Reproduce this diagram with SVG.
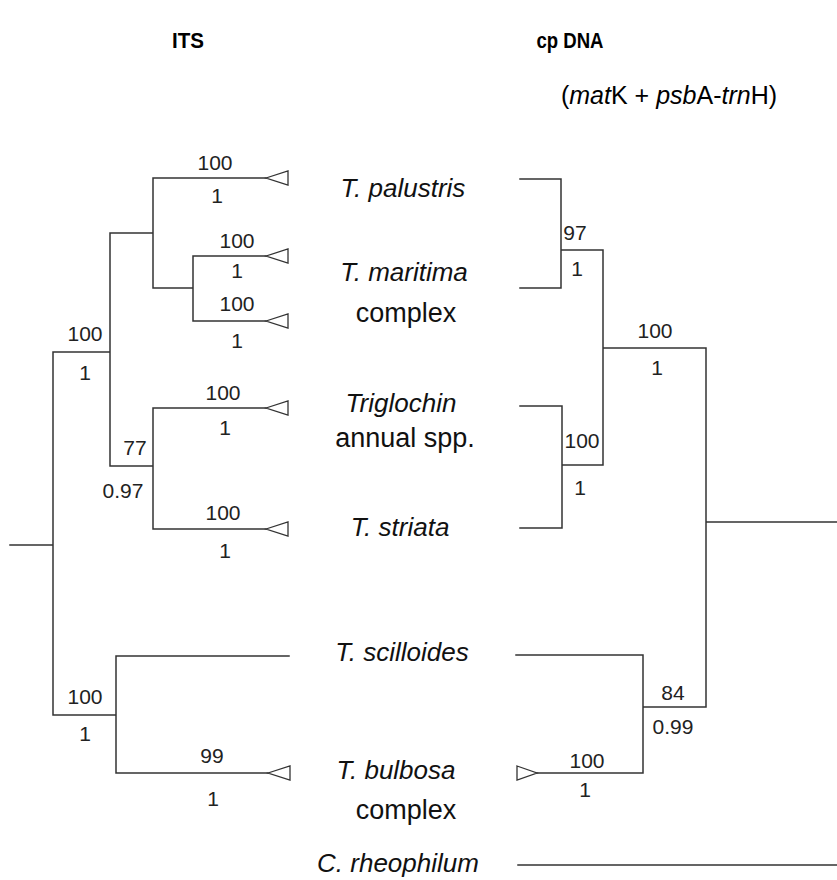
<svg xmlns="http://www.w3.org/2000/svg" xmlns:xlink="http://www.w3.org/1999/xlink" width="837" height="880" viewBox="0 0 837 880">
<style>
.br{stroke:#333;stroke-width:1.5;fill:none;stroke-linecap:square}
.tri{stroke:#333;stroke-width:1.3;fill:#fff}
.sup{font-family:"Liberation Sans",Arial,sans-serif;font-size:21px;fill:#222;text-anchor:middle}
.tax{font-family:"Liberation Sans",Arial,sans-serif;font-size:27px;fill:#111;text-anchor:middle}
.it{font-style:italic;font-size:26px}
.ttl{font-family:"Liberation Sans",Arial,sans-serif;font-size:22px;font-weight:bold;fill:#000;text-anchor:middle}
.sub{font-family:"Liberation Sans",Arial,sans-serif;font-size:25px;fill:#000;text-anchor:middle}
</style>
<defs>
<path id="triL" d="M0,0 L22,-7 L22,7 Z"/>
<path id="triR" d="M0,-7 L20,0 L0,7 Z"/>
</defs>
<rect width="837" height="880" fill="#fff"/>

<g id="titles">
<text class="ttl" x="188" y="48" textLength="32" lengthAdjust="spacingAndGlyphs">ITS</text>
<text class="ttl" x="570" y="48" textLength="67" lengthAdjust="spacingAndGlyphs">cp DNA</text>
<text class="sub" x="669" y="104">(<tspan font-style="italic">mat</tspan>K + <tspan font-style="italic">psb</tspan>A-<tspan font-style="italic">trn</tspan>H)</text>
</g>

<g id="connectors">
<!-- ITS tree -->
<path class="br" d="M10,545 H53 M53,352 V715 M53,352 H110 M110,233 V466 M110,233 H153 M153,178 V288 M153,178 H266 M153,288 H193 M193,256 V321 M193,256 H266 M193,321 H266 M110,466 H153 M153,408 V529 M153,408 H266 M153,529 H266 M53,715 H116 M116,656 V773 M116,656 H289 M116,773 H268"/>
<use xlink:href="#triL" class="tri" x="266" y="178"/>
<use xlink:href="#triL" class="tri" x="266" y="256"/>
<use xlink:href="#triL" class="tri" x="266" y="321"/>
<use xlink:href="#triL" class="tri" x="266" y="408"/>
<use xlink:href="#triL" class="tri" x="266" y="529"/>
<use xlink:href="#triL" class="tri" x="268" y="773"/>
<!-- cp DNA tree -->
<path class="br" d="M520,179 H561 V288 H520 M561,250 H603 M520,406 H562 V528 H520 M562,465 H603 M603,250 V465 M603,348 H706 V707 M706,522 H837 M643,707 H706 M516,655 H643 V773 H537 M518,865 H837"/>
<use xlink:href="#triR" class="tri" x="517" y="773"/>
</g>

<g id="support">
<text class="sup" x="215" y="170">100</text><text class="sup" x="217" y="203">1</text>
<text class="sup" x="237" y="248">100</text><text class="sup" x="237" y="278">1</text>
<text class="sup" x="237" y="311">100</text><text class="sup" x="237" y="348">1</text>
<text class="sup" x="85" y="341">100</text><text class="sup" x="85" y="380">1</text>
<text class="sup" x="223" y="400">100</text><text class="sup" x="225" y="435">1</text>
<text class="sup" x="135" y="455">77</text><text class="sup" x="123" y="498">0.97</text>
<text class="sup" x="223" y="520">100</text><text class="sup" x="225" y="558">1</text>
<text class="sup" x="85" y="704">100</text><text class="sup" x="85" y="741">1</text>
<text class="sup" x="212" y="763">99</text><text class="sup" x="213" y="806">1</text>
<text class="sup" x="575" y="240">97</text><text class="sup" x="577" y="276">1</text>
<text class="sup" x="582" y="448">100</text><text class="sup" x="580" y="495">1</text>
<text class="sup" x="655" y="338">100</text><text class="sup" x="657" y="375">1</text>
<text class="sup" x="673" y="700">84</text><text class="sup" x="673" y="734">0.99</text>
<text class="sup" x="587" y="768">100</text><text class="sup" x="585" y="797">1</text>
</g>

<g id="t-palustris"><text class="tax it" x="403" y="197">T. palustris</text></g>
<g id="t-maritima"><text class="tax it" x="404" y="281">T. maritima</text><text class="tax" x="406" y="322">complex</text></g>
<g id="triglochin-annual"><text class="tax it" x="401" y="412">Triglochin</text><text class="tax" x="405" y="447">annual spp.</text></g>
<g id="t-striata"><text class="tax it" x="400" y="536">T. striata</text></g>
<g id="t-scilloides"><text class="tax it" x="402" y="661">T. scilloides</text></g>
<g id="t-bulbosa"><text class="tax it" x="396" y="779">T. bulbosa</text><text class="tax" x="406" y="819">complex</text></g>
<g id="c-rheophilum"><text class="tax it" x="398" y="872">C. rheophilum</text></g>
</svg>
